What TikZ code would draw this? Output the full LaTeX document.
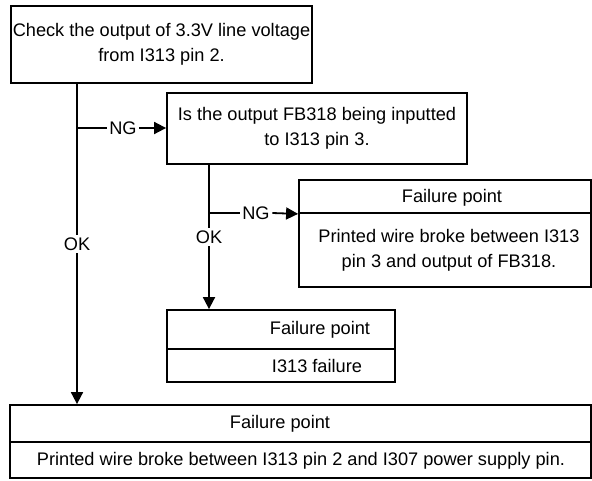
\documentclass[tikz,border=0pt]{standalone}
\usepackage{fontspec}
\setmainfont{Liberation Sans}
\usetikzlibrary{arrows.meta,positioning,calc}
\tikzset{
  flowbox/.style={draw,rectangle,line width=1.8pt,inner sep=0pt,align=center,font=\fontsize{18.2}{25}\selectfont},
  celltext/.style={inner sep=0pt,align=center,font=\fontsize{18.2}{25}\selectfont},
  branchlabel/.style={inner sep=2.5pt,font=\fontsize{18.2}{22}\selectfont},
  flowline/.style={line width=1.8pt},
  flowarrow/.style={line width=1.8pt,-{Triangle[length=12pt,width=12pt]}}
}

\begin{document}
\begin{tikzpicture}[x=1pt,y=-1pt]
\useasboundingbox (0,0) rectangle (592,480);
% ---- question boxes ----
\node[flowbox,minimum width=301pt,minimum height=77pt] (chk) at (161.5,44.5)
  {Check the output of 3.3V line voltage\\from I313 pin 2.};
\node[flowbox,minimum width=300pt,minimum height=71pt] (askfb) at (317,128.5)
  {Is the output FB318 being inputted\\to I313 pin 3.};
% ---- failure point boxes ----
\node[flowbox,minimum width=292pt,minimum height=33pt] (fpahead) at (445,196.5) {};
\node[flowbox,minimum width=292pt,minimum height=74pt] (fpabody) at (445,250) {};
\node[celltext] (fpatitle) at (452,198) {Failure point};
\node[celltext] (fpatext) at (449,250) {Printed wire broke between I313\\pin 3 and output of FB318.};
\node[flowbox,minimum width=228pt,minimum height=39pt] (fpbhead) at (281,329.5) {};
\node[flowbox,minimum width=228pt,minimum height=33pt] (fpbbody) at (281,365.5) {};
\node[celltext] (fpbtitle) at (320,330) {Failure point};
\node[celltext] (fpbtext) at (317,366) {I313 failure};
\node[flowbox,minimum width=581pt,minimum height=37pt] (fpchead) at (300.5,423.5) {};
\node[flowbox,minimum width=581pt,minimum height=36pt] (fpcbody) at (300.5,460) {};
\node[celltext] (fpctitle) at (280,424) {Failure point};
\node[celltext] (fpctext) at (301,461) {Printed wire broke between I313 pin 2 and I307 power supply pin.};
% ---- branches ----
\coordinate (jchk) at (77,128);
\node[branchlabel] (ngchk) at (123,128) {NG};
\node[branchlabel] (okchk) at (77,244) {OK};
\coordinate (jfb) at (209,213);
\node[branchlabel] (ngfb) at (256,213) {NG};
\node[branchlabel] (okfb) at (209,237) {OK};
\draw[flowline] (chk.south -| okchk) -- (okchk.north);
\draw[flowarrow] (okchk.south) -- (fpchead.north -| okchk);
\draw[flowline] (jchk) -- (ngchk.west);
\draw[flowarrow] (ngchk.east) -- (askfb.west |- ngchk);
\draw[flowline] (askfb.south -| okfb) -- (okfb.north);
\draw[flowarrow] (okfb.south) -- (fpbhead.north -| okfb);
\draw[flowline] (jfb) -- (ngfb.west);
\draw[flowarrow] (ngfb.east) -- (fpahead.south west);
\end{tikzpicture}
\end{document}
